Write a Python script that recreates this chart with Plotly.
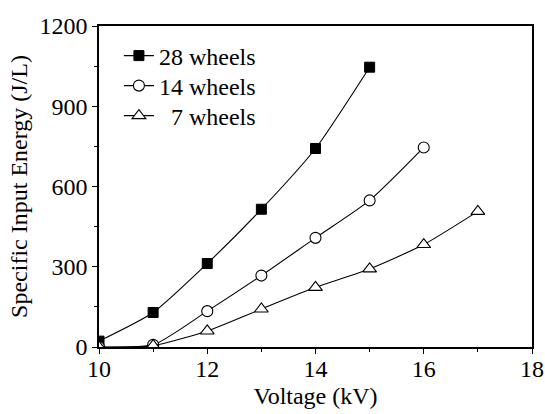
import plotly.graph_objects as go

voltage_28 = [10, 11, 12, 13, 14, 15]
energy_28 = [22, 129, 312, 515, 742, 1046]

voltage_14 = [10, 11, 12, 13, 14, 15, 16]
energy_14 = [0, 8, 134, 267, 408, 548, 746]

voltage_7 = [10, 11, 12, 13, 14, 15, 16, 17]
energy_7 = [0, 5, 60, 142, 223, 292, 383, 507]

names = ["28 wheels", "14 wheels", "  7 wheels"]

FONT = "Liberation Serif"

fig = go.Figure()
fig.add_trace(go.Scatter(x=voltage_28, y=energy_28, name=names[0], mode="lines+markers", legend="legend",
                         line=dict(color="black", width=1.1, shape="spline", smoothing=0.6),
                         marker=dict(symbol="square", size=10, color="black",
                                     line=dict(color="black", width=1))))
fig.add_trace(go.Scatter(x=voltage_14, y=energy_14, name=names[1], mode="lines+markers", legend="legend2",
                         line=dict(color="black", width=1.1, shape="spline", smoothing=0.6),
                         marker=dict(symbol="circle", size=11, color="white",
                                     line=dict(color="black", width=1.1))))
fig.add_trace(go.Scatter(x=voltage_7, y=energy_7, name=names[2], mode="lines+markers", legend="legend3",
                         line=dict(color="black", width=1.1, shape="spline", smoothing=0.6),
                         marker=dict(symbol="triangle-up", size=12, color="white",
                                     line=dict(color="black", width=1.1))))

axis_common = dict(showline=True, linecolor="black", linewidth=1.5, mirror=True,
                   ticks="outside", ticklen=5, tickwidth=1.2, tickcolor="black",
                   showgrid=False, zeroline=False, automargin=False,
                   tickfont=dict(family=FONT, size=24, color="black"))

fig.update_xaxes(range=[10, 18], dtick=2, ticklabelstandoff=-6,
                 title=dict(text="Voltage (kV)", font=dict(family=FONT, size=24, color="black"), standoff=7),
                 minor=dict(dtick=1, ticks="outside", ticklen=3, tickcolor="black"), **axis_common)
fig.update_yaxes(range=[0, 1200], dtick=300,
                 title=dict(text="Specific Input Energy (J/L)", font=dict(family=FONT, size=24, color="black"), standoff=5),
                 minor=dict(dtick=150, ticks="outside", ticklen=3, tickcolor="black"), **axis_common)

leg_common = dict(x=0.046, xanchor="left", yanchor="middle", bgcolor="rgba(0,0,0,0)",
                  font=dict(family=FONT, size=24, color="black"))
# legend rows at pixel y 56, 86, 116 within plot spanning 26..347
fig.update_layout(
    width=545, height=414,
    margin=dict(l=99, r=13, t=26, b=67),
    paper_bgcolor="white", plot_bgcolor="white",
    font=dict(family=FONT, size=24, color="black"),
    legend=dict(y=(347 - 56) / 321, **leg_common),
    legend2=dict(y=(347 - 86) / 321, **leg_common),
    legend3=dict(y=(347 - 116) / 321, **leg_common),
    showlegend=True,
)

fig.write_html("out.html", config={"displayModeBar": False},
               post_script="document.body.style.margin='0';document.body.style.overflow='hidden';")
